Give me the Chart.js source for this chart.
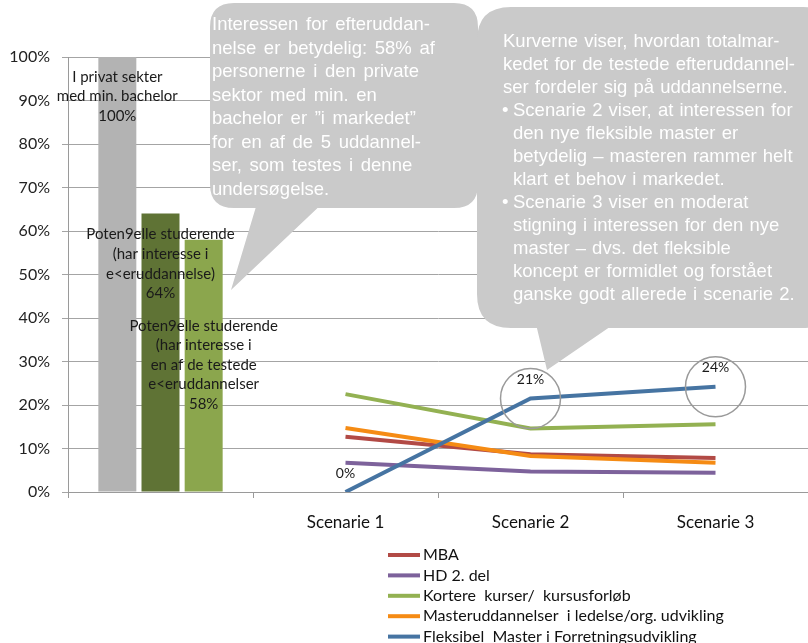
<!DOCTYPE html>
<html>
<head>
<meta charset="utf-8">
<script src="https://cdn.jsdelivr.net/npm/chart.js@4.4.1/dist/chart.umd.min.js"></script>
<style>
  html, body { margin: 0; padding: 0; background: #fff; }
  #wrap { width: 808px; height: 643px; position: relative; }
</style>
</head>
<body>
<div id="wrap"><canvas id="chart"></canvas></div>
<script>
const categories = ['', 'Scenarie 1', 'Scenarie 2', 'Scenarie 3'];
const yStep = 10;

const barValues = [100, 64, 58];
const barLabels = [
  ['I privat sekter', 'med min. bachelor', '100%'],
  ['Poten9elle studerende', '(har interesse i', 'e<eruddannelse)', '64%'],
  ['Poten9elle studerende', '(har interesse i', 'en af de testede', 'e<eruddannelser', '58%']
];

const lineNames = ['MBA', 'HD 2. del', 'Kortere  kurser/  kursusforløb',
  'Masteruddannelser  i ledelse/org. udvikling', 'Fleksibel  Master i Forretningsudvikling'];
const mba = [12.7, 8.7, 7.8];
const hd = [6.7, 4.7, 4.4];
const kortere = [22.5, 14.6, 15.6];
const master = [14.7, 8.3, 6.7];
const fleksibel = [0, 21.5, 24.2];
const fleksibelLabels = ['0%', '21%', '24%'];

const bubbleLeft = [
  'Interessen for efteruddan-',
  'nelse er betydelig: 58% af',
  'personerne i den private',
  'sektor med min. en',
  'bachelor er ”i markedet”',
  'for en af de 5 uddannel-',
  'ser, som testes i denne',
  'undersøgelse.'
];
const bubbleRight = [
  ['', 'Kurverne viser, hvordan totalmar-'],
  ['', 'kedet for de testede efteruddannel-'],
  ['', 'ser fordeler sig på uddannelserne.'],
  ['•', 'Scenarie 2 viser, at interessen for'],
  ['', 'den nye fleksible master er'],
  ['', 'betydelig – masteren rammer helt'],
  ['', 'klart et behov i markedet.'],
  ['•', 'Scenarie 3 viser en moderat'],
  ['', 'stigning i interessen for den nye'],
  ['', 'master – dvs. det fleksible'],
  ['', 'koncept er formidlet og forstået'],
  ['', 'ganske godt allerede i scenarie 2.']
];

const barColors = ['#b3b3b3', '#5f7335', '#8ba64d'];
const lineColors = ['#b24a45', '#7d629b', '#93b152', '#f58b14', '#4674a2'];
const labelFont = 'Lato, "Open Sans", sans-serif';
const bubbleFont = '"Liberation Sans", Arial, sans-serif';
const barLabelOffsets = [20, 21, 86];

const shift = arr => [null].concat(arr);

const lineData = [mba, hd, kortere, master, fleksibel];
const lineOrder = [3, 4, 2, 1, 0];

const datasets = [];
barValues.forEach((v, i) => {
  const d = [null, null, null, null];
  d[0] = v;
  datasets.push({
    type: 'bar', label: barLabels[i][0], data: d,
    backgroundColor: barColors[i], borderWidth: 0,
    categoryPercentage: 0.70, barPercentage: 0.88, order: 10
  });
});
lineData.forEach((arr, i) => {
  datasets.push({
    type: 'line', label: lineNames[i], data: shift(arr),
    borderColor: lineColors[i], backgroundColor: lineColors[i],
    borderWidth: 4, pointRadius: 0, tension: 0, order: lineOrder[i]
  });
});

function roundRect(ctx, x, y, w, h, r) {
  ctx.moveTo(x + r, y);
  ctx.lineTo(x + w - r, y);
  ctx.quadraticCurveTo(x + w, y, x + w, y + r);
  ctx.lineTo(x + w, y + h - r);
  ctx.quadraticCurveTo(x + w, y + h, x + w - r, y + h);
  ctx.lineTo(x + r, y + h);
  ctx.quadraticCurveTo(x, y + h, x, y + h - r);
  ctx.lineTo(x, y + r);
  ctx.quadraticCurveTo(x, y, x + r, y);
}

const extras = {
  id: 'extras',
  afterDatasetsDraw(chart) {
    const ctx = chart.ctx;
    ctx.save();

    // bar labels
    ctx.fillStyle = '#1a1a1a';
    ctx.font = '15px ' + labelFont;
    ctx.textAlign = 'center';
    ctx.textBaseline = 'middle';
    barLabels.forEach((lines, i) => {
      const bar = chart.getDatasetMeta(i).data[0];
      lines.forEach((t, k) => {
        ctx.fillText(t, bar.x, bar.y + barLabelOffsets[i] + k * 19.6);
      });
    });

    // labels and circles on the Fleksibel line
    ctx.font = '14px ' + labelFont;
    const meta = chart.getDatasetMeta(barValues.length + 4);
    fleksibelLabels.forEach((t, k) => {
      const p = meta.data[k + 1];
      ctx.fillText(t, p.x, p.y - 19);
      if (k > 0) {
        ctx.beginPath();
        ctx.arc(p.x, p.y, 30, 0, Math.PI * 2);
        ctx.strokeStyle = '#9a9a9a';
        ctx.lineWidth = 1.5;
        ctx.stroke();
      }
    });

    // callout bubbles
    ctx.fillStyle = '#cacaca';
    ctx.beginPath();
    roundRect(ctx, 210, 3, 268, 205, 24);
    ctx.moveTo(258, 200);
    ctx.lineTo(326, 200);
    ctx.lineTo(231, 290);
    ctx.closePath();
    ctx.fill();

    ctx.beginPath();
    roundRect(ctx, 477, 7, 360, 321, 34);
    ctx.moveTo(535, 320);
    ctx.lineTo(620, 320);
    ctx.lineTo(547, 370);
    ctx.closePath();
    ctx.fill();

    ctx.fillStyle = '#ffffff';
    ctx.textAlign = 'left';
    ctx.font = '18.5px ' + bubbleFont;
    const hasWs = 'wordSpacing' in ctx;
    if (hasWs) ctx.wordSpacing = '2.5px';
    bubbleLeft.forEach((t, k) => ctx.fillText(t, 212, 25 + k * 23.5));
    if (hasWs) ctx.wordSpacing = '1px';
    bubbleRight.forEach((row, k) => {
      const y = 42 + k * 23;
      if (row[0]) ctx.fillText(row[0], 502, y);
      ctx.fillText(row[1], row[0] || k > 3 ? 513 : 503, y);
    });
    if (hasWs) ctx.wordSpacing = '0px';

    // legend
    ctx.font = '16px ' + labelFont;
    lineNames.forEach((name, i) => {
      const y = 555 + i * 20.4;
      ctx.fillStyle = lineColors[i];
      ctx.fillRect(388, y - 2, 32, 4);
      ctx.fillStyle = '#111';
      ctx.fillText(name, 423, y);
    });
    ctx.restore();
  }
};

new Chart(document.getElementById('chart'), {
  type: 'bar',
  data: { labels: categories, datasets: datasets },
  options: {
    responsive: true,
    maintainAspectRatio: false,
    animation: false,
    layout: { padding: { top: 57, bottom: 111, left: 0, right: 0 } },
    plugins: { legend: { display: false }, tooltip: { enabled: false } },
    scales: {
      x: {
        offset: true,
        afterFit: s => { s.height = 40; },
        grid: { offset: true, drawOnChartArea: false, tickLength: 6, color: '#9a9a9a' },
        border: { color: '#9a9a9a' },
        ticks: { color: '#111', font: { family: labelFont, size: 17 }, padding: 14 }
      },
      y: {
        min: 0, max: 100,
        afterFit: s => { s.width = 68; },
        grid: { tickLength: 6, color: '#a4a4a4', lineWidth: 1 },
        border: { color: '#9a9a9a' },
        ticks: { stepSize: yStep, color: '#222', font: { family: labelFont, size: 16 }, padding: 12,
          callback: v => v + '%' }
      }
    }
  },
  plugins: [extras]
});
</script>
</body>
</html>
